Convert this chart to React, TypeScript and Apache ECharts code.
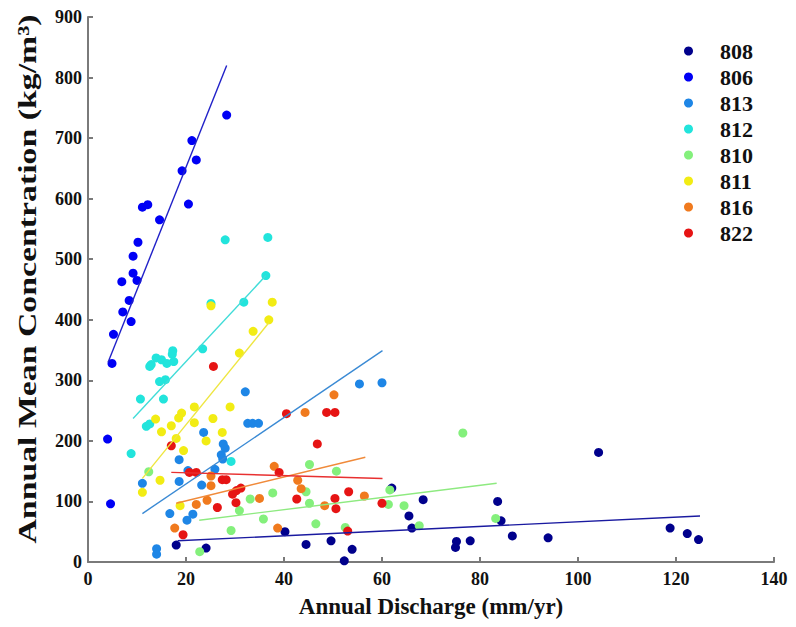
import React, { useEffect, useRef } from "react";
import * as echarts from "echarts";

const stations = ["808", "806", "813", "812", "810", "811", "816", "822"];
const stationColors = ["#00008c", "#0000f5", "#1e86e6", "#22e4dc", "#84f07c", "#f2ec14", "#f07a1e", "#e61414"];
const lineColors = ["#1a1aa0", "#2020c8", "#3a8ad4", "#40dcd8", "#8eea80", "#eee640", "#f08a3a", "#e83030"];

// Annual Discharge (mm/yr), Annual Mean Concentration (kg/m3)
const s808 = [[18.0, 28], [24.1, 23], [40.2, 50], [44.5, 29], [49.6, 35], [53.9, 21], [52.3, 2], [62.0, 122], [68.4, 103], [65.5, 76], [66.1, 56], [75.0, 24], [75.2, 34], [78.0, 35], [83.6, 100], [84.3, 68], [86.6, 43], [93.9, 40], [104.2, 181], [118.8, 56], [122.3, 47], [124.6, 37]];
const s806 = [[28.3, 738], [21.2, 696], [22.1, 664], [19.2, 646], [20.5, 591], [11.1, 586], [12.2, 590], [14.6, 565], [10.2, 528], [9.2, 505], [9.2, 477], [10.0, 465], [6.9, 463], [8.4, 432], [7.1, 413], [8.8, 397], [5.2, 376], [4.9, 328], [4.0, 203], [4.6, 96]];
const s813 = [[32.1, 281], [32.6, 229], [33.6, 229], [34.8, 229], [23.6, 214], [27.6, 195], [28.0, 188], [27.2, 177], [27.5, 170], [18.6, 169], [25.9, 153], [20.4, 151], [18.6, 133], [23.2, 127], [11.1, 130], [16.7, 80], [21.4, 79], [20.2, 69], [14.0, 22], [14.0, 13], [55.4, 294], [60.0, 296]];
const s812 = [[28.0, 532], [36.7, 536], [36.3, 473], [31.8, 429], [25.1, 427], [23.4, 352], [17.3, 349], [17.2, 343], [13.9, 337], [15.0, 334], [12.9, 326], [16.1, 328], [17.5, 331], [12.6, 323], [15.8, 301], [14.6, 298], [10.7, 269], [15.4, 269], [11.9, 224], [12.6, 228], [8.8, 179], [29.2, 166]];
const s810 = [[76.5, 213], [45.2, 161], [50.7, 150], [44.5, 116], [37.7, 114], [45.2, 97], [46.5, 63], [52.5, 57], [61.6, 119], [61.3, 95], [64.5, 93], [67.6, 60], [83.2, 72], [33.1, 104], [35.8, 71], [30.9, 85], [29.2, 52], [22.8, 17], [12.4, 149]];
const s811 = [[25.1, 423], [37.6, 429], [36.9, 400], [33.7, 381], [30.9, 345], [29.0, 256], [25.5, 237], [24.1, 200], [27.4, 214], [21.7, 256], [19.1, 246], [18.5, 238], [21.7, 230], [17.0, 225], [15.0, 215], [13.8, 236], [18.0, 204], [19.5, 184], [14.7, 135], [11.1, 115], [18.8, 93]];
const s816 = [[50.2, 276], [44.3, 247], [38.0, 158], [42.8, 135], [43.5, 121], [56.4, 109], [48.3, 93], [38.7, 56], [35.0, 105], [25.1, 142], [25.1, 126], [24.3, 102], [22.1, 95], [17.7, 56]];
const s822 = [[25.6, 323], [40.5, 245], [48.7, 247], [50.4, 247], [46.8, 195], [39.0, 148], [42.6, 104], [50.4, 105], [53.2, 116], [50.6, 88], [60.0, 97], [53.0, 51], [20.7, 148], [22.1, 148], [27.4, 136], [28.2, 136], [29.5, 112], [30.3, 118], [31.2, 122], [30.2, 98], [26.4, 90], [19.4, 45], [17.0, 192]];
const stationData = [s808, s806, s813, s812, s810, s811, s816, s822];

// fitted trend lines: [start, end] in data units
const fit808 = [[18.3, 35], [124.9, 76]];
const fit806 = [[4.1, 330], [28.3, 820]];
const fit813 = [[11.1, 80], [60.1, 349]];
const fit812 = [[9.2, 237], [36.3, 473]];
const fit810 = [[22.7, 69], [83.4, 130]];
const fit811 = [[11.1, 138], [36.9, 395]];
const fit816 = [[18.0, 97], [56.6, 173]];
const fit822 = [[17.0, 148], [60.1, 138]];
const fits = [fit808, fit806, fit813, fit812, fit810, fit811, fit816, fit822];

const xTicks = { min: 0, max: 140, interval: 20 };
const yTicks = { min: 0, max: 900, interval: 100 };
const xTitle = "Annual Discharge (mm/yr)";
const yTitle = "Annual Mean Concentration (kg/m\u00b3)";

const FONT = "'Liberation Serif', 'Times New Roman', serif";

export default function App() {
  const ref = useRef<HTMLDivElement>(null);
  useEffect(() => {
    if (!ref.current) return;
    const chart = echarts.init(ref.current, null, { renderer: "svg" });
    const axisCommon = {
      type: "value" as const,
      nameLocation: "middle" as const,
      axisLine: { show: true, lineStyle: { color: "#7a7a7a", width: 2 } },
      axisTick: { show: true, inside: true, length: 5, lineStyle: { color: "#7a7a7a", width: 2 } },
      splitLine: { show: false },
      axisLabel: { color: "#111", fontFamily: FONT, fontWeight: "bold", fontSize: 18 },
      nameTextStyle: { color: "#111", fontFamily: FONT, fontWeight: "bold", fontSize: 23 },
    };
    const scatterSeries = stations.map((name, i) => ({
      name,
      type: "scatter",
      data: stationData[i],
      symbol: "circle",
      symbolSize: 9,
      itemStyle: { color: stationColors[i], opacity: 1 },
      z: 2,
    }));
    const lineSeries = stations.map((name, i) => ({
      name: name + " fit",
      type: "line",
      data: fits[i],
      showSymbol: false,
      symbol: "none",
      lineStyle: { color: lineColors[i], width: 1.4 },
      silent: true,
      z: 3,
    }));
    chart.setOption({
      animation: false,
      backgroundColor: "#ffffff",
      grid: { left: 88, right: 22, top: 17, bottom: 65 },
      legend: {
        data: stations.map((n, i) => ({ name: n, itemStyle: { color: stationColors[i] } })),
        orient: "vertical",
        left: 684,
        top: 40,
        icon: "circle",
        itemWidth: 9,
        itemHeight: 9,
        itemGap: 4,
        padding: 0,
        textStyle: { color: "#111", fontFamily: FONT, fontWeight: "bold", fontSize: 22, padding: [0, 0, 0, 22] },
      },
      graphic: [
        {
          type: "text",
          x: 27,
          y: 279,
          rotation: Math.PI / 2,
          scaleX: 1.3,
          silent: true,
          style: {
            text: yTitle,
            fill: "#111",
            font: "bold 26px " + FONT,
            align: "center",
            verticalAlign: "middle",
          },
        },
      ],
      xAxis: {
        ...axisCommon,
        ...xTicks,
        name: xTitle,
        nameGap: 33,
        axisLabel: { ...axisCommon.axisLabel, margin: 8 },
      },
      yAxis: {
        ...axisCommon,
        ...yTicks,
        axisLabel: { ...axisCommon.axisLabel, margin: 6 },
      },
      series: [...lineSeries, ...scatterSeries],
    });
    return () => chart.dispose();
  }, []);
  return <div ref={ref} style={{ position: "fixed", left: 0, top: 0, width: 796, height: 627 }} />;
}
